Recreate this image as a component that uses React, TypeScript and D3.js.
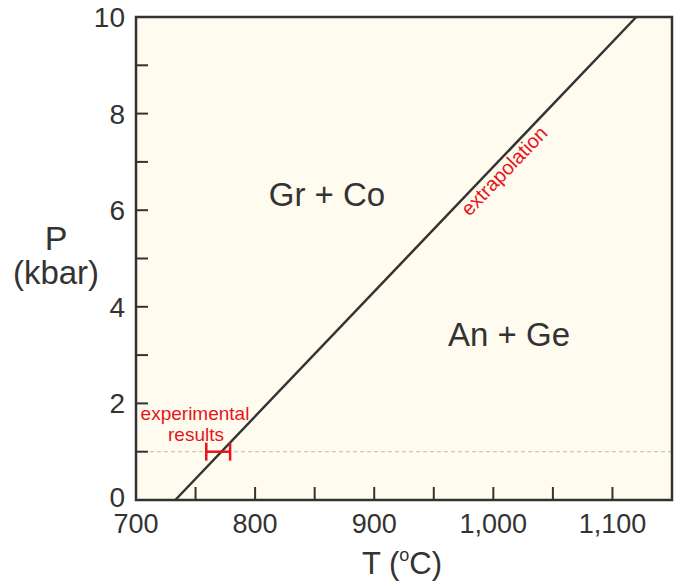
import React from "react";
import * as d3 from "d3";

// reaction boundary (T in °C, P in kbar)
const boundaryT = [733, 1120];
const boundaryP = [0, 10];

// experimental bracket
const expT = [759, 779];
const expP = 1;

const xTicks = [750, 800, 850, 900, 950, 1000, 1050, 1100];
const xLabels = [700, 800, 900, 1000, 1100];
const yTicks = [1, 2, 3, 4, 5, 6, 7, 8, 9];
const yLabels = [0, 2, 4, 6, 8, 10];

const W = 675;
const H = 582;
const margin = { left: 136, right: 3, top: 17, bottom: 82 };
const font = "'Liberation Sans', Arial, sans-serif";
const ink = "#333";
const red = "#e8141b";

export default function App() {
  const x = d3.scaleLinear().domain([700, 1150]).range([margin.left, W - margin.right]);
  const y = d3.scaleLinear().domain([0, 10]).range([H - margin.bottom, margin.top]);
  const fmt = d3.format(",");

  const line = d3.line<number>()
    .x((_, i) => x(boundaryT[i]))
    .y((_, i) => y(boundaryP[i]));

  const angle = (Math.atan2(y(boundaryP[1]) - y(boundaryP[0]), x(boundaryT[1]) - x(boundaryT[0])) * 180) / Math.PI;

  const x0 = x.range()[0], x1 = x.range()[1];
  const y0 = y.range()[0], y1 = y.range()[1];

  return (
    <svg width={W} height={H} style={{ position: "absolute", left: 0, top: 0 }} fontFamily={font}>
      <rect x={x0} y={y1} width={x1 - x0} height={y0 - y1} fill="#fffcef" />
      {/* dashed reference at 1 kbar */}
      <line x1={x0} x2={x1} y1={y(expP)} y2={y(expP)} stroke="#bbb" strokeWidth={1} strokeDasharray="4,3" />
      <path d={line(boundaryP) || ""} stroke={ink} strokeWidth={2.5} fill="none" />
      {/* ticks */}
      {xTicks.map(t => (
        <line key={"xt" + t} x1={x(t)} x2={x(t)} y1={y0} y2={y0 - 13} stroke={ink} strokeWidth={2} />
      ))}
      {yTicks.map(t => (
        <line key={"yt" + t} x1={x0} x2={x0 + 12} y1={y(t)} y2={y(t)} stroke={ink} strokeWidth={2} />
      ))}
      <rect x={x0} y={y1} width={x1 - x0} height={y0 - y1} fill="none" stroke={ink} strokeWidth={2.5} />
      {/* tick labels */}
      {xLabels.map(t => (
        <text key={"xl" + t} x={x(t)} y={y0 + 33} textAnchor="middle" fontSize={27} fill={ink}>{fmt(t)}</text>
      ))}
      {yLabels.map(t => (
        <text key={"yl" + t} x={x0 - 11} y={y(t) + (t === 0 ? 7 : 10)} textAnchor="end" fontSize={28} fill={ink}>{t}</text>
      ))}
      {/* experimental bracket */}
      <g stroke={red} strokeWidth={2.5}>
        <line x1={x(expT[0])} x2={x(expT[1])} y1={y(expP)} y2={y(expP)} />
        <line x1={x(expT[0])} x2={x(expT[0])} y1={y(expP) - 9} y2={y(expP) + 9} />
        <line x1={x(expT[1])} x2={x(expT[1])} y1={y(expP) - 9} y2={y(expP) + 9} />
      </g>
      <text x={195} y={420} textAnchor="middle" fontSize={19} fill={red}>experimental</text>
      <text x={196} y={441} textAnchor="middle" fontSize={19} fill={red}>results</text>
      <text
        transform={`translate(${x(980)},${y(5.86)}) rotate(${angle})`}
        x={0} y={0} fontSize={20} fill={red}
      >extrapolation</text>
      {/* field labels */}
      <text x={327} y={206} textAnchor="middle" fontSize={33} fill={ink}>Gr + Co</text>
      <text x={509} y={346} textAnchor="middle" fontSize={33} fill={ink}>An + Ge</text>
      {/* axis titles */}
      <text x={56} y={250} textAnchor="middle" fontSize={34} fill={ink}>P</text>
      <text x={56} y={284} textAnchor="middle" fontSize={33} fill={ink}>(kbar)</text>
      <text x={402} y={574} textAnchor="middle" fontSize={31} fill={ink}>
        T (<tspan fontSize={18} dy={-13}>o</tspan><tspan dy={13}>C)</tspan>
      </text>
    </svg>
  );
}
